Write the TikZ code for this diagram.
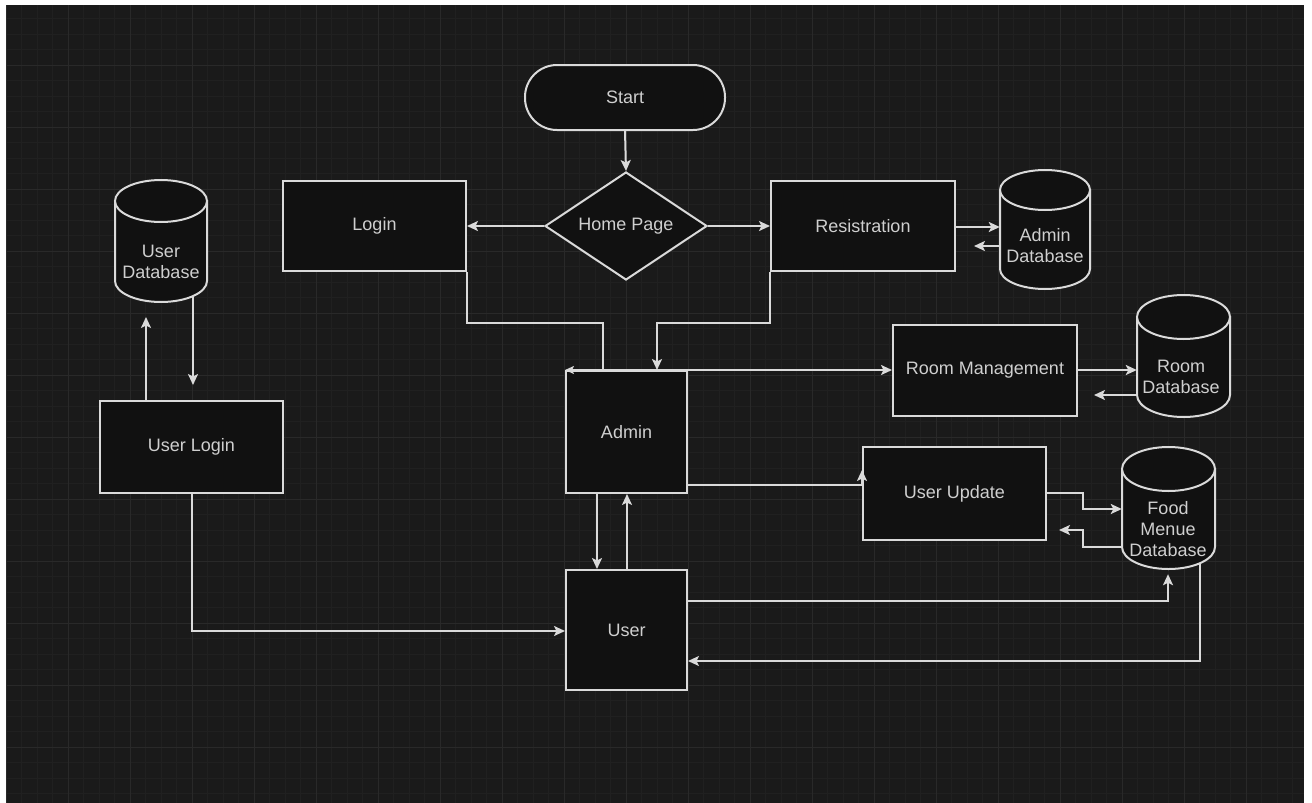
\documentclass[tikz,border=0pt]{standalone}
\usepackage{fontspec}
\setmainfont{Liberation Sans}
\usetikzlibrary{arrows.meta,shapes.geometric,calc}
\definecolor{bgc}{HTML}{1A1A1A}
\definecolor{fillc}{HTML}{111111}
\definecolor{gmin}{HTML}{202020}
\definecolor{gmaj}{HTML}{292929}
\definecolor{lnc}{HTML}{DADADA}
\definecolor{txc}{HTML}{CFCFCF}
\newcommand\dbshape[5]{%
  \draw[ln, fill=fillc] (#1,#3+#5) -- (#1,#4-#5) arc[start angle=180,end angle=0,x radius={(#2-#1)/2},y radius=#5] -- (#2,#3+#5) -- cycle;
  \draw[ln, fill=fillc] ({(#1+#2)/2},#3+#5) ellipse [x radius={(#2-#1)/2}, y radius=#5];}
\begin{document}
\begin{tikzpicture}[x=1pt,y=-1pt,
  ln/.style={draw=lnc, line width=2pt},
  arr/.style={ln, -{Stealth[length=11pt,width=10pt,inset=2.5pt]}},
  arrb/.style={ln, {Stealth[length=9pt,width=8pt,inset=2pt]}-{Stealth[length=11pt,width=10pt,inset=2.5pt]}},
  box/.style={draw=lnc, line width=2pt, fill=fillc, text=txc, font=\fontsize{18}{21}\selectfont, inner sep=0, align=center},
  lbl/.style={text=txc, font=\fontsize{18}{21}\selectfont, align=center, inner sep=0}]
\useasboundingbox (0,0) rectangle (1312,803);
\fill[white] (0,0) rectangle (1312,803);
\fill[bgc] (6,5) rectangle (1304,803);
\begin{scope}
\clip (6,5) rectangle (1304,803);
\foreach \i in {0,...,84} {\draw[gmin, line width=0.8pt] ({6+15.5*\i},5) -- ({6+15.5*\i},803);}
\foreach \i in {0,...,52} {\draw[gmin, line width=0.8pt] (6,{3+15.5*\i}) -- (1304,{3+15.5*\i});}
\foreach \i in {0,...,21} {\draw[gmaj, line width=1pt] ({6+62*\i},5) -- ({6+62*\i},803);}
\foreach \i in {0,...,13} {\draw[gmaj, line width=1pt] (6,{3+62*\i}) -- (1304,{3+62*\i});}
\end{scope}

% cylinders
\dbshape{115}{207}{180}{302}{21}
\dbshape{1000}{1090}{170}{289}{20}
\dbshape{1137}{1230}{295}{417}{22}
\dbshape{1122}{1215}{447}{569}{22}
\node[inner sep=0, minimum width=92pt, minimum height=122pt] (udb) at (161,241) {};
\node[inner sep=0, minimum width=90pt, minimum height=119pt] (adb) at (1045,229.5) {};
\node[inner sep=0, minimum width=93pt, minimum height=122pt] (rdb) at (1183.5,356) {};
\node[inner sep=0, minimum width=93pt, minimum height=122pt] (fdb) at (1168.5,508) {};
\node[lbl] (udbt) at (161,262) {User\\Database};
\node[lbl] (adbt) at (1045,246) {Admin\\Database};
\node[lbl] (rdbt) at (1181,377) {Room\\Database};
\node[lbl] (fdbt) at (1168,529) {Food\\Menue\\Database};

% boxes
\node[box, rounded corners=32pt, minimum width=200pt, minimum height=65pt] (start) at (625,97.5) {Start};
\node[box, diamond, aspect=1.5, minimum width=162pt, minimum height=108pt] (home) at (626,226) {Home Page};
\node[box, minimum width=183pt, minimum height=90pt] (login) at (374.5,226) {Login};
\node[box, minimum width=184pt, minimum height=90pt] (reg) at (863,226) {Resistration};
\node[box, minimum width=183pt, minimum height=92pt] (ulogin) at (191.5,447) {User Login};
\node[box, minimum width=121pt, minimum height=122pt] (admin) at (626.5,432) {Admin};
\node[box, minimum width=121pt, minimum height=120pt] (user) at (626.5,630) {User};
\node[box, minimum width=184pt, minimum height=91pt] (room) at (985,370.5) {Room Management};
\node[box, minimum width=183pt, minimum height=93pt] (uupd) at (954.5,493.5) {User Update};

% connectors
\draw[arr] (start.south) -- (home.north);
\draw[arr] (home.west) -- (login.east);
\draw[arr] (home.east) -- (reg.west);
\draw[arr] (reg.east |- 0,227) -- (adb.west |- 0,227);
\draw[arr] (adb.west |- 0,246) -- ([xshift=18pt]reg.east |- 0,246);
\draw[ln] (login.south east) |- (603,323) -- (603,0 |- admin.north);
\draw[arr] (reg.south west) |- (657,323) -- (657,0 |- admin.north);
\draw[arrb] (admin.north west) -- (admin.north west -| room.west);
\draw[arr] (room.east |- 0,370) -- (rdb.west |- 0,370);
\draw[arr] (rdb.west |- 0,395) -- ([xshift=16pt]room.east |- 0,395);
\draw[arr] (admin.east |- 0,485) -| (uupd.west |- 0,470);
\draw[arr] (uupd.east |- 0,493) -- (1083,493) |- (fdb.west |- 0,509);
\draw[arr] (fdb.west |- 0,547) -- (1083,547) -- (1083,530) -- ([xshift=12pt]uupd.east |- 0,530);
\draw[arr] (597,0 |- admin.south) -- (597,0 |- user.north);
\draw[arr] (627,0 |- user.north) -- (627,0 |- admin.south);
\draw[arr, shorten >=5pt] (user.east |- 0,601) -| (1168,0 |- fdb.south);
\draw[arr] (1200,563) |- (user.east |- 0,661);
\draw[arr] (146,0 |- ulogin.north) -- (146,317);
\draw[arr] (193,297) -- (193,385);
\draw[arr] (192,0 |- ulogin.south) |- (user.west |- 0,631);
\end{tikzpicture}
\end{document}
